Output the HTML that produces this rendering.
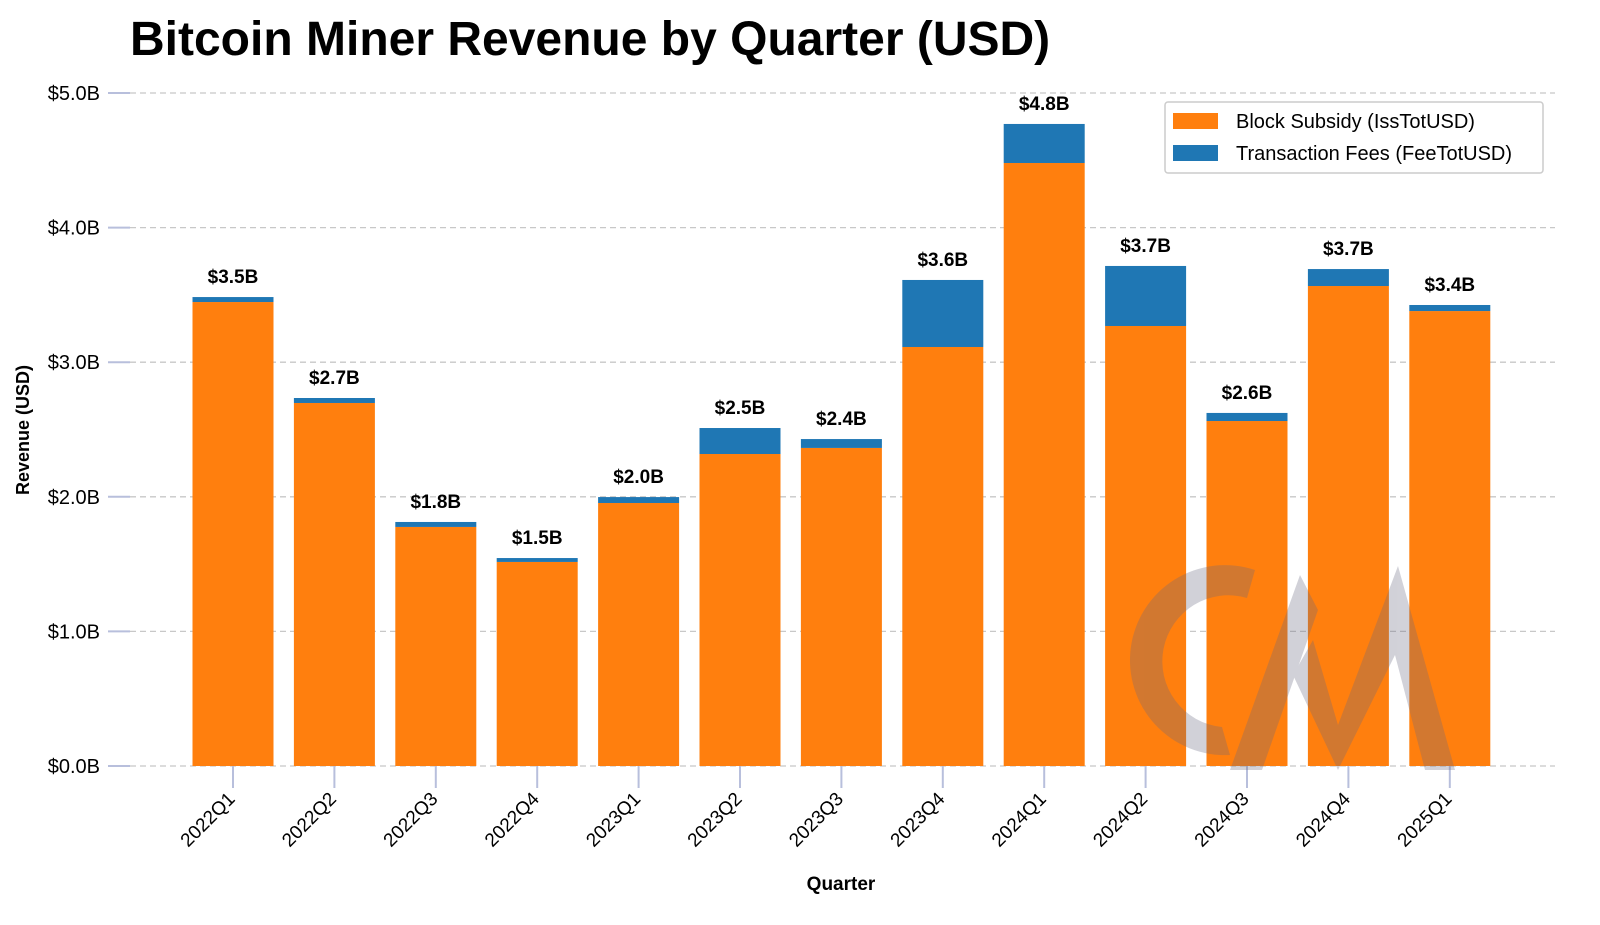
<!DOCTYPE html>
<html><head><meta charset="utf-8"><style>
html,body{margin:0;padding:0;background:#fff;}
svg{display:block;font-family:"Liberation Sans",sans-serif;}
</style></head><body>
<svg id="chart" width="1600" height="925" viewBox="0 0 1600 925">
<text x="130" y="55" font-size="48" font-weight="bold" fill="#000">Bitcoin Miner Revenue by Quarter (USD)</text>
<g id="grid"></g><g id="bars"></g><g id="axes"></g>
<text transform="translate(29,430) rotate(-90)" text-anchor="middle" font-size="18" font-weight="bold">Revenue (USD)</text>
<text x="841" y="890" text-anchor="middle" font-size="19" font-weight="bold">Quarter</text>
<g opacity="0.3" fill="#6b6b80">
<path d="M1255,570 A95,95 0 1 0 1230,755 L1222,727 A66,66 0 1 1 1247,598 Z"/>
<polygon points="1300,575 1318,610 1262,770 1230,770"/>
<polygon points="1293,675 1313,640 1338,725 1398,566 1455,770 1425,770 1395,655 1338,770"/>
</g>
<g>
<rect x="1165" y="102" width="378" height="71" fill="#fff" stroke="#ccc" stroke-width="1.5" rx="3"/>
<rect x="1173" y="113" width="45" height="16" fill="#ff7f0e"/>
<text x="1236" y="128" font-size="20">Block Subsidy (IssTotUSD)</text>
<rect x="1173" y="145" width="45" height="16" fill="#1f77b4"/>
<text x="1236" y="160" font-size="20">Transaction Fees (FeeTotUSD)</text>
</g>
</svg>
<script>
const categories=["2022Q1","2022Q2","2022Q3","2022Q4","2023Q1","2023Q2","2023Q3","2023Q4","2024Q1","2024Q2","2024Q3","2024Q4","2025Q1"];
const subsidy=[3.447,2.697,1.776,1.516,1.954,2.318,2.363,3.113,4.480,3.269,2.563,3.566,3.380];
const fees=[0.037,0.037,0.037,0.029,0.044,0.193,0.066,0.498,0.290,0.446,0.060,0.126,0.045];
const yTicks=[0,1,2,3,4,5];
const NS="http://www.w3.org/2000/svg";
const y0=766,pxPer=134.6,x0=233,step=101.4,bw=81;
const ys=v=>y0-v*pxPer;
const xs=i=>x0+i*step;
function mk(t,a,p){const e=document.createElementNS(NS,t);for(const k in a)e.setAttribute(k,a[k]);p.appendChild(e);return e;}
const grid=document.getElementById('grid'),bars=document.getElementById('bars'),axes=document.getElementById('axes');
yTicks.forEach(v=>{
 const g=mk('line',{x1:130,x2:1555,y1:ys(v),y2:ys(v),stroke:'#c8c8c8','stroke-dasharray':'6,4','stroke-width':1.3},grid);
 
 
 const t=mk('line',{x1:108,x2:130,y1:ys(v),y2:ys(v),stroke:'#b8bfdc','stroke-width':2},axes);
 
 
 const l=mk('text',{x:100,y:ys(v)+7,'text-anchor':'end','font-size':20},axes);
 l.textContent='$'+v.toFixed(1)+'B';
 
 
});
categories.forEach((c,i)=>{
 const cx=xs(i),s=subsidy[i],f=fees[i],tot=s+f;
 const r1=mk('rect',{x:cx-bw/2,y:ys(s),width:bw,height:s*pxPer,fill:'#ff7f0e'},bars);
 
 
 const r2=mk('rect',{x:cx-bw/2,y:ys(tot),width:bw,height:f*pxPer,fill:'#1f77b4'},bars);
 
 
 const v=mk('text',{x:cx,y:ys(tot)-14,'text-anchor':'middle','font-size':19,'font-weight':'bold'},bars);
 v.textContent='$'+tot.toFixed(1)+'B';
 
 
 const t=mk('line',{x1:cx,x2:cx,y1:766,y2:788,stroke:'#b8bfdc','stroke-width':2},axes);
 
 
 const l=mk('text',{transform:`translate(${cx+3},${800}) rotate(-45)`,'text-anchor':'end','font-size':19},axes);
 l.textContent=c;
 
 
});
</script>
</body></html>
